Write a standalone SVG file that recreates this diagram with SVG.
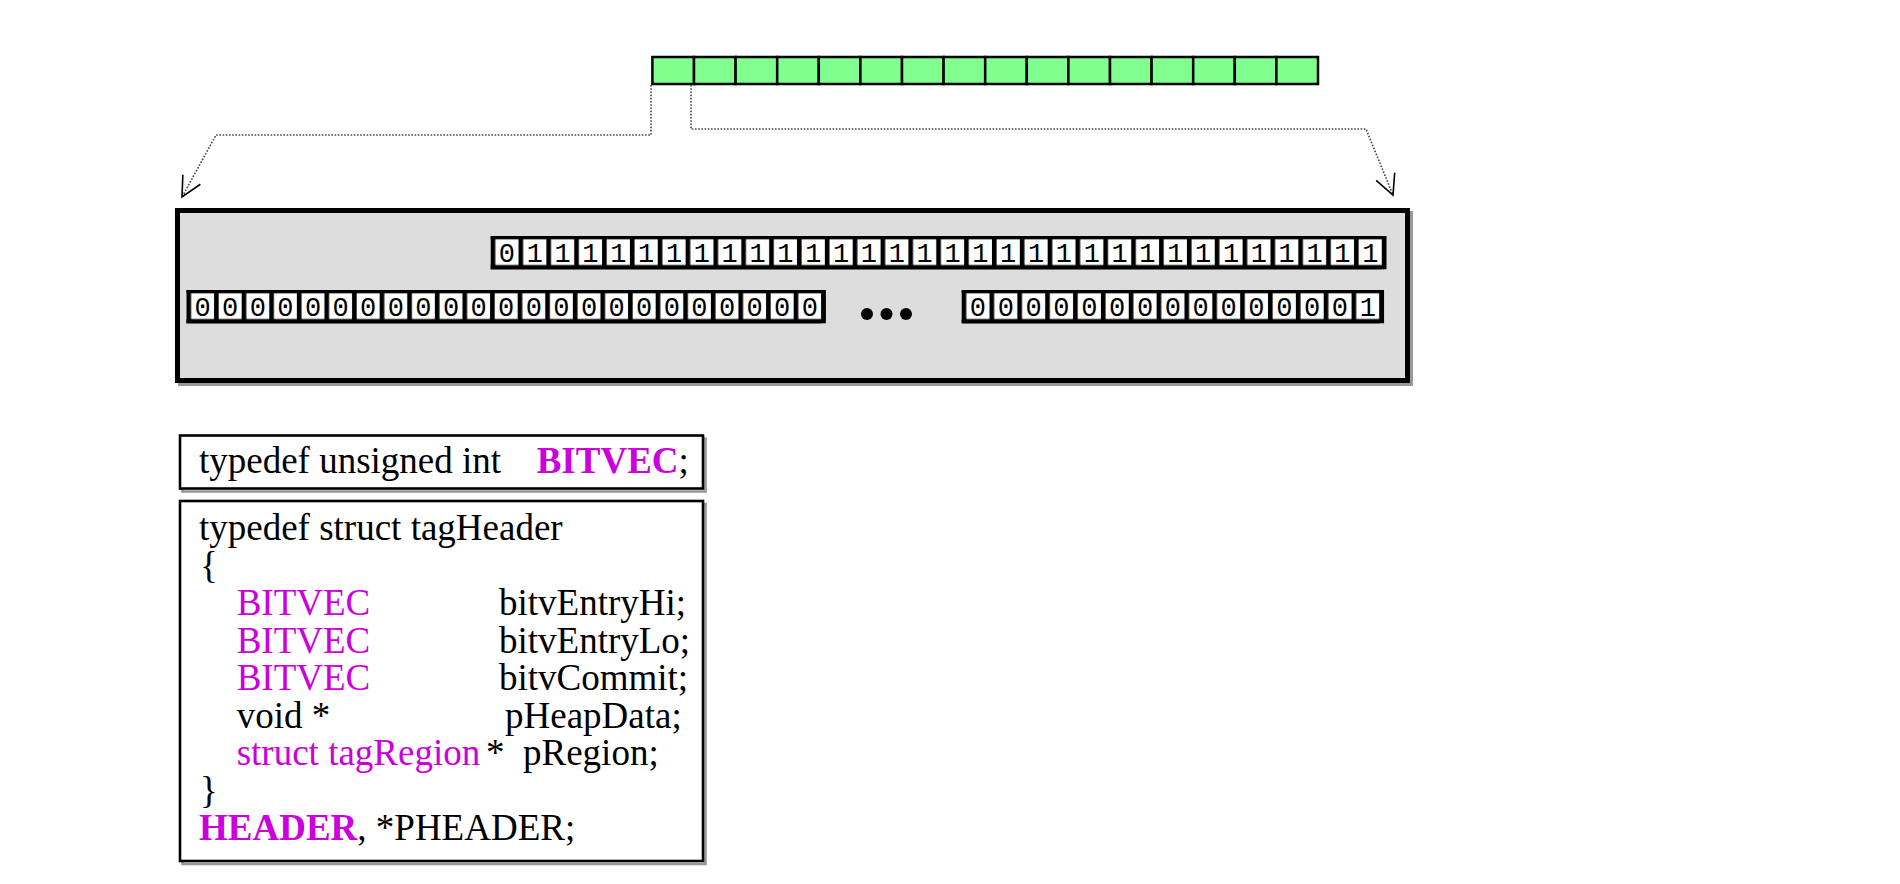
<svg xmlns="http://www.w3.org/2000/svg" width="1900" height="884" viewBox="0 0 1900 884">
<style>
.green{fill:#80FF8F;stroke:#000;stroke-width:2.5}
.conn{fill:none;stroke:#444;stroke-width:1.6;stroke-dasharray:1.6 1.6}
.bits{font-family:"Liberation Mono","DejaVu Sans Mono",monospace;font-size:27px;fill:#000;text-anchor:middle}
.code{font-family:"Liberation Serif","Times New Roman",serif;font-size:37px;fill:#000}
.mag{fill:#CC00DD}
.bold{font-weight:bold}
.box{fill:#fff;stroke:#000;stroke-width:2.6}
.shadow{fill:none;stroke:#999;stroke-width:2.6}
</style>
<defs>
<pattern id="cell" patternUnits="userSpaceOnUse" x="0" y="0" width="27.85" height="33.3">
<rect x="0" y="0" width="27.85" height="33.3" fill="#000"/>
<rect x="4.6" y="3.3" width="23.2" height="25.7" fill="#fff"/>
</pattern>
<pattern id="cell2" patternUnits="userSpaceOnUse" x="0" y="0" width="27.6" height="33.3">
<rect x="0" y="0" width="27.6" height="33.3" fill="#000"/>
<rect x="4.6" y="3.3" width="22.95" height="25.7" fill="#fff"/>
</pattern>
<marker id="arr" viewBox="0 0 24 24" markerWidth="24" markerHeight="24" refX="22" refY="12" orient="auto" markerUnits="userSpaceOnUse">
<path d="M2,2 L22,12 L2,22" fill="none" stroke="#000" stroke-width="1.6" stroke-dasharray="none"/>
</marker>
</defs>
<rect width="1900" height="884" fill="#fff"/>

<g id="green-bar">
<rect class="green" x="652.4" y="57" width="41.6" height="27"/>
<rect class="green" x="694" y="57" width="41.6" height="27"/>
<rect class="green" x="735.6" y="57" width="41.6" height="27"/>
<rect class="green" x="777.2" y="57" width="41.6" height="27"/>
<rect class="green" x="818.8" y="57" width="41.6" height="27"/>
<rect class="green" x="860.4" y="57" width="41.6" height="27"/>
<rect class="green" x="902" y="57" width="41.6" height="27"/>
<rect class="green" x="943.6" y="57" width="41.6" height="27"/>
<rect class="green" x="985.2" y="57" width="41.6" height="27"/>
<rect class="green" x="1026.8" y="57" width="41.6" height="27"/>
<rect class="green" x="1068.4" y="57" width="41.6" height="27"/>
<rect class="green" x="1110" y="57" width="41.6" height="27"/>
<rect class="green" x="1151.6" y="57" width="41.6" height="27"/>
<rect class="green" x="1193.2" y="57" width="41.6" height="27"/>
<rect class="green" x="1234.8" y="57" width="41.6" height="27"/>
<rect class="green" x="1276.4" y="57" width="41.6" height="27"/>
</g>

<g id="connectors">
<path class="conn" d="M651,85 V135 H216 L182,197" marker-end="url(#arr)"/>
<path class="conn" d="M691,85 V129 H1366 L1393,195" marker-end="url(#arr)"/>
</g>

<g id="header-box">
<rect x="180.5" y="213.5" width="1230" height="170" fill="none" stroke="#999" stroke-width="5"/>
<rect x="177.5" y="210.5" width="1230" height="170" fill="#DDDDDD" stroke="#000" stroke-width="5"/>

<g id="row-hi" transform="translate(490.7,236)">
<rect x="0" y="0" width="895.8" height="33.3" fill="#000"/>
<rect x="0" y="0" width="891.2" height="33.3" fill="url(#cell)"/>
<text class="bits" y="25.5" x="16.2 44.05 71.9 99.75 127.6 155.45 183.3 211.15 239 266.85 294.7 322.55 350.4 378.25 406.1 433.95 461.8 489.65 517.5 545.35 573.2 601.05 628.9 656.75 684.6 712.45 740.3 768.15 796 823.85 851.7 879.55">01111111111111111111111111111111</text>
</g>

<g id="row-lo-left" transform="translate(186.5,290)">
<rect x="0" y="0" width="639.4" height="33.3" fill="#000"/>
<rect x="0" y="0" width="634.8" height="33.3" fill="url(#cell2)"/>
<text class="bits" y="25.5" x="16.1 43.7 71.3 98.9 126.5 154.1 181.7 209.3 236.9 264.5 292.1 319.7 347.3 374.9 402.5 430.1 457.7 485.3 512.9 540.5 568.1 595.7 623.3">00000000000000000000000</text>
</g>

<g id="ellipsis">
<circle cx="867" cy="314" r="6" fill="#000"/>
<circle cx="886.5" cy="314" r="6" fill="#000"/>
<circle cx="906" cy="314" r="6" fill="#000"/>
</g>

<g id="row-lo-right" transform="translate(961.7,290)">
<rect x="0" y="0" width="422.35" height="33.3" fill="#000"/>
<rect x="0" y="0" width="417.75" height="33.3" fill="url(#cell)"/>
<text class="bits" y="25.5" x="16.2 44.05 71.9 99.75 127.6 155.45 183.3 211.15 239 266.85 294.7 322.55 350.4 378.25 406.1">000000000000001</text>
</g>
</g>

<g id="typedef-box">
<rect class="shadow" x="182.5" y="438.5" width="523" height="53"/>
<rect class="box" x="180" y="435.5" width="523" height="53"/>
<text class="code" x="199" y="473">typedef unsigned int</text>
<text class="code" x="536.7" y="473"><tspan class="mag bold">BITVEC</tspan>;</text>
</g>

<g id="struct-box">
<rect class="shadow" x="182.5" y="504" width="523" height="360"/>
<rect class="box" x="180" y="501" width="523" height="360"/>
<text class="code" x="199" y="540">typedef struct tagHeader</text>
<text class="code" x="200" y="577.5">{</text>
<text class="code mag" x="236.7" y="615">BITVEC</text>
<text class="code" x="499" y="615">bitvEntryHi;</text>
<text class="code mag" x="236.7" y="652.5">BITVEC</text>
<text class="code" x="499" y="652.5">bitvEntryLo;</text>
<text class="code mag" x="236.7" y="690">BITVEC</text>
<text class="code" x="499" y="690">bitvCommit;</text>
<text class="code" x="236.7" y="727.5">void *</text>
<text class="code" x="505" y="727.5">pHeapData;</text>
<text class="code mag" x="236.7" y="765">struct tagRegion</text>
<text class="code" x="486" y="765">*</text>
<text class="code" x="523" y="765">pRegion;</text>
<text class="code" x="200" y="802.5">}</text>
<text class="code" x="199" y="840"><tspan class="mag bold">HEADER</tspan>, *PHEADER;</text>
</g>
</svg>
